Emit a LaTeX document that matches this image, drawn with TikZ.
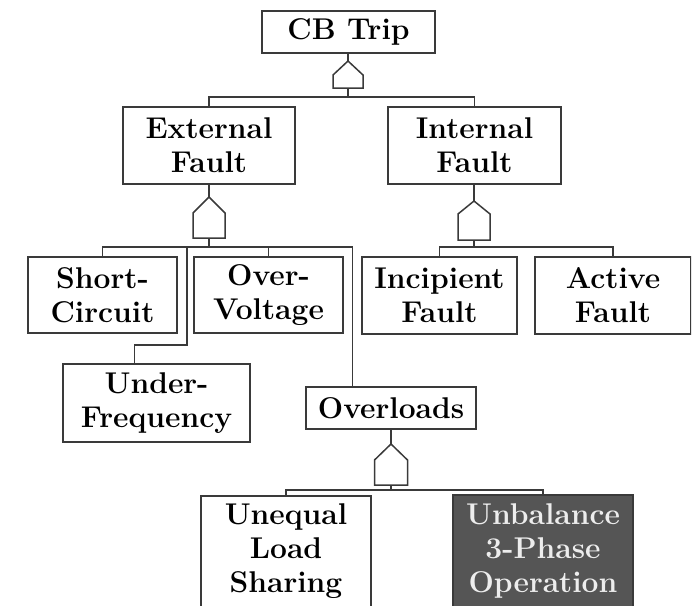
\documentclass[tikz,border=0pt]{standalone}
\usepackage{fontspec}
\definecolor{linegray}{HTML}{3A3A3A}
\definecolor{darkfill}{HTML}{555555}
\newcommand\ftgate[6]{%
  \draw[wire] ({#2-#6},#5) -- ({#2-#6},#4) -- (#2,#3) -- ({#2+#6},#4) -- ({#2+#6},#5) -- cycle;
  \coordinate (#1t) at (#2,#3);
  \coordinate (#1b) at (#2,#5);}
\begin{document}
\begin{tikzpicture}[x=1pt,y=-1pt,
  wire/.style={draw=linegray,line width=1.5pt},
  box/.style={draw=linegray,line width=1.5pt,inner sep=0pt,align=center,
    font=\fontsize{30}{34}\selectfont\bfseries,text=black},
  darkbox/.style={box,fill=darkfill,text=white!93!black}]
\useasboundingbox (0,0) rectangle (700,605);
\clip (0,0) rectangle (691,605);

% boxes
\node[box,minimum width=173pt,minimum height=42pt] (cb) at (348.5,32) {CB Trip};
\node[box,minimum width=172pt,minimum height=77pt] (ext) at (209,145.5) {External\\Fault};
\node[box,minimum width=173pt,minimum height=77pt] (int) at (474.5,145.5) {Internal\\Fault};
\node[box,minimum width=149pt,minimum height=76pt] (sc) at (102.5,295) {Short-\\Circuit};
\node[box,minimum width=149pt,minimum height=76pt] (ov) at (268.5,295) {Over-\\Voltage};
\node[box,minimum width=155pt,minimum height=77pt] (inc) at (439.5,295.5) {Incipient\\Fault};
\node[box,minimum width=156pt,minimum height=77pt] (act) at (613,295.5) {Active\\Fault};
\node[box,minimum width=187pt,minimum height=78pt] (uf) at (156.5,403) {Under-\\Frequency};
\node[box,minimum width=170pt,minimum height=42pt] (ovl) at (391,408) {Overloads};
\node[box,minimum width=170pt,minimum height=111pt] (uls) at (286,551.5) {Unequal\\Load\\Sharing};
\node[darkbox,minimum width=180pt,minimum height=112pt] (ub) at (543,551) {Unbalance\\3-Phase\\Operation};

% gates
\ftgate{g1}{348}{61}{75}{88}{15}
\ftgate{g2}{209}{197}{213}{238}{16}
\ftgate{g3}{474}{201}{214}{240}{16}
\ftgate{g4}{391}{444}{460}{485}{16.5}

% top gate
\draw[wire] (cb.south -| g1t) -- (g1t);
\draw[wire] (g1b) -- ++(0,9) coordinate (b1);
\draw[wire] (b1) -| (ext.north);
\draw[wire] (b1) -| (int.north);

% external fault gate
\draw[wire] (ext.south) -- (g2t);
\draw[wire] (g2b) -- ++(0,9) coordinate (b2);
\draw[wire] (b2) -| (sc.north);
\draw[wire] (b2) -| (ov.north);
\coordinate (ufk) at (187,345);
\draw[wire] (b2) -| (ufk) -| ([xshift=72pt]uf.north west);
\draw[wire] (b2) -| ([xshift=47pt]ovl.north west);

% internal fault gate
\draw[wire] (int.south -| g3t) -- (g3t);
\draw[wire] (g3b) -- ++(0,7) coordinate (b3);
\draw[wire] (b3) -| (inc.north);
\draw[wire] (b3) -| (act.north);

% overloads gate
\draw[wire] (ovl.south) -- (g4t);
\draw[wire] (g4b) -- ++(0,5) coordinate (b4);
\draw[wire] (b4) -| (uls.north);
\draw[wire] (b4) -| (ub.north);
\end{tikzpicture}
\end{document}
